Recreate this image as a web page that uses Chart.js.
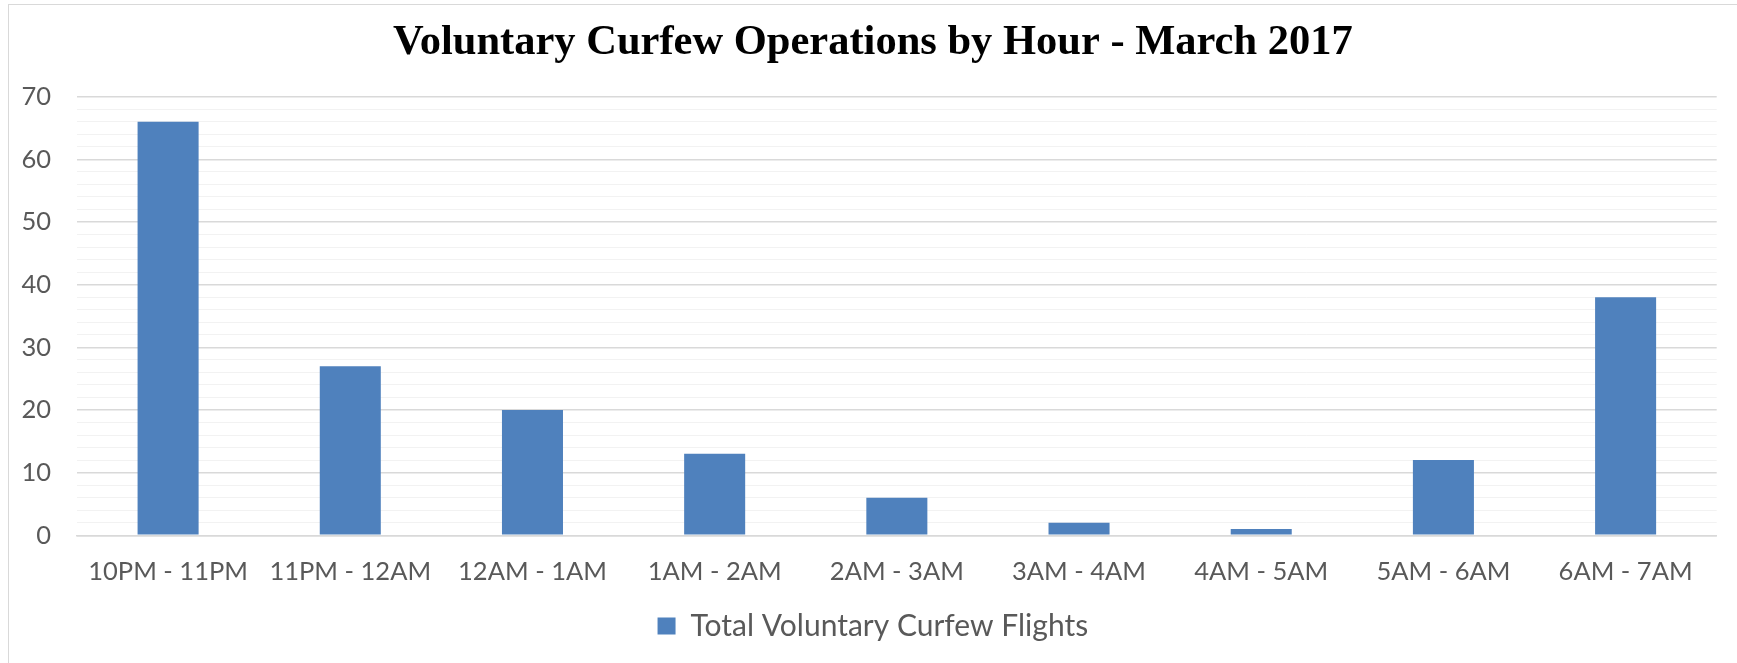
<!DOCTYPE html>
<html>
<head>
<meta charset="utf-8">
<script src="https://cdn.jsdelivr.net/npm/chart.js@4/dist/chart.umd.min.js"></script>
<style>
  html, body { margin: 0; padding: 0; background: #ffffff; overflow: hidden; width: 1737px; height: 663px; }
  #frame { position: absolute; left: 8px; top: 4px; width: 1800px; height: 720px; border: 1px solid #d9d9d9; }
  canvas { display: block; }
</style>
</head>
<body>
<div id="frame"><canvas id="c" width="1720" height="652"></canvas></div>
<script>
const categories = ["10PM - 11PM", "11PM - 12AM", "12AM - 1AM", "1AM - 2AM", "2AM - 3AM", "3AM - 4AM", "4AM - 5AM", "5AM - 6AM", "6AM - 7AM"];
const flights = [66, 27, 20, 13, 6, 2, 1, 12, 38];
const seriesName = "Total Voluntary Curfew Flights";
const chartTitle = "Voluntary Curfew Operations by Hour - March 2017";
const yMax = 70;
const yMinorStep = 2;
const yMajorStep = 10;

const tickFont = { family: "Lato", size: 25.5 };
const legendFont = { family: "Lato", size: 30 };
const grey = "#595959";

// y-axis labels: drawn with mirror so they are not clipped by the narrow axis box;
// the padding places their right edge 26px left of the plot area.
const yLabelGap = 26;

new Chart(document.getElementById("c"), {
  type: "bar",
  data: {
    labels: categories,
    datasets: [{
      label: seriesName,
      data: flights,
      backgroundColor: "#4f81bd",
      borderWidth: 0,
      categoryPercentage: 1,
      barPercentage: 0.335
    }]
  },
  options: {
    responsive: false,
    animation: false,
    layout: { padding: { left: 20, right: 12.3, top: 0, bottom: 6 } },
    plugins: {
      title: {
        display: true,
        text: chartTitle,
        color: "#000000",
        font: { family: "Liberation Serif", size: 42.5, weight: "bold", lineHeight: 1.2 },
        padding: { top: 13, bottom: 27.7 }
      },
      legend: {
        display: true,
        position: "bottom",
        labels: {
          boxWidth: 18,
          boxHeight: 17,
          color: grey,
          font: legendFont,
          padding: 10
        }
      },
      tooltip: { enabled: false }
    },
    scales: {
      x: {
        afterFit: (s) => { s.height = 65.7; },
        grid: { display: false, drawTicks: false },
        border: { display: true, color: "#d9d9d9", width: 1.5 },
        ticks: { color: grey, font: tickFont, padding: 21, maxRotation: 0, autoSkip: false }
      },
      y: {
        min: 0,
        max: yMax,
        afterFit: (s) => { s.width = 48; },
        afterUpdate: (s) => {
          const w = s._getLabelSizes().widest.width;
          s.options.ticks.padding = -(yLabelGap + w);
        },
        grid: {
          drawTicks: false,
          color: (ctx) => (ctx.tick && ctx.tick.value % yMajorStep === 0) ? "#d9d9d9" : "#f2f2f2",
          lineWidth: (ctx) => (ctx.tick && ctx.tick.value % yMajorStep === 0) ? 1.5 : 1
        },
        border: { display: false },
        ticks: {
          mirror: true,
          crossAlign: "far",
          stepSize: yMinorStep,
          autoSkip: false,
          color: grey,
          font: tickFont,
          padding: -55,
          callback: (v) => (v % yMajorStep === 0 ? String(v) : "")
        }
      }
    }
  }
});
</script>
</body>
</html>
